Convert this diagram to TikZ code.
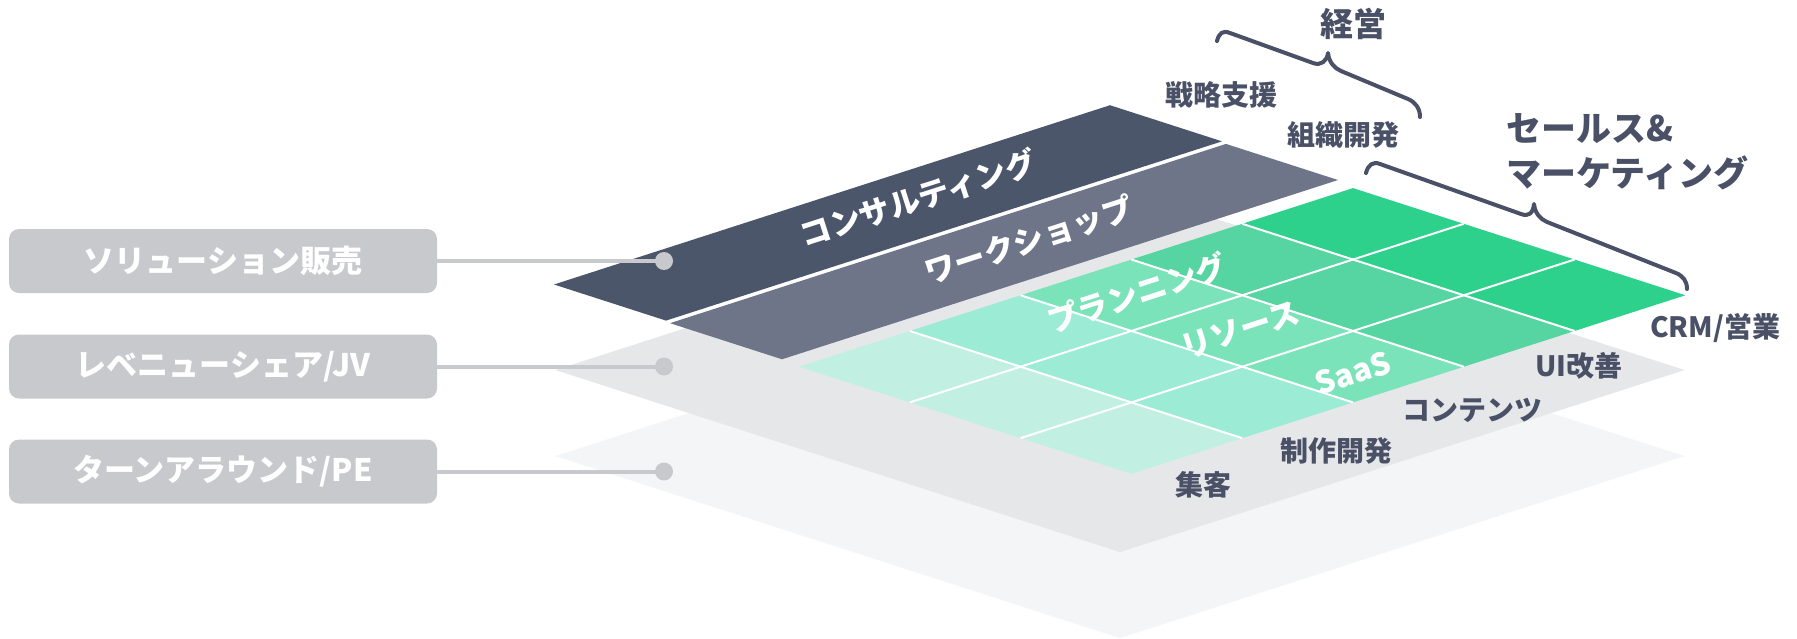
\documentclass[tikz,border=0pt]{standalone}
\usepackage{fontspec}
\setmainfont{Noto Sans CJK JP}
\definecolor{ink}{HTML}{4A5167}
\definecolor{boxgray}{HTML}{C8C9CD}
\definecolor{layerA}{HTML}{F4F5F7}
\definecolor{layerB}{HTML}{E6E7E9}
\definecolor{bandA}{HTML}{4B566B}
\definecolor{bandB}{HTML}{6F7588}
\definecolor{grA}{HTML}{2DD18C}
\definecolor{grB}{HTML}{56D4A1}
\definecolor{grC}{HTML}{7AE3BA}
\definecolor{grD}{HTML}{9CEBD4}
\definecolor{grE}{HTML}{C1F0E3}
\begin{document}
\begin{tikzpicture}[x=1pt,y=-1pt,
  sidebox/.style={fill=boxgray,rounded corners=10pt,minimum width=428pt,minimum height=64pt,text=white,font=\bfseries\fontsize{31}{31}\selectfont},
  pin/.style={circle,fill=boxgray,minimum size=18pt,inner sep=0pt},
  lbl/.style={text=ink,font=\bfseries\fontsize{28}{28}\selectfont,inner sep=0pt},
  onband/.style={text=white,font=\bfseries\fontsize{31}{31}\selectfont,rotate=17.9,inner sep=0pt},
  brace/.style={ink,line width=4pt,line cap=round,line join=round}]
\useasboundingbox (0,0) rectangle (1797,638);
% layers and grid, in plane coordinates
\begin{scope}[xshift=1120pt,yshift=-102pt,x={(1pt,-0.3224pt)},y={(-1pt,-0.3224pt)}]
\fill[layerA] (266.8,266.8) -- (831.4,266.8) -- (831.4,831.4) -- (266.8,831.4) -- cycle;
\fill[layerB] (133.4,133.4) -- (698,133.4) -- (698,698) -- (133.4,698) -- cycle;
\fill[bandA] (0,10) -- (112,10) -- (112,566) -- (0,566) -- cycle;
\fill[bandB] (118,12) -- (230,12) -- (230,568) -- (118,568) -- cycle;
\foreach \j/\c in {0/grA,1/grB,2/grC,3/grD,4/grE}
  \fill[\c] (250,{17+110.8*\j}) -- (582.4,{17+110.8*\j}) -- (582.4,{17+110.8*(\j+1)}) -- (250,{17+110.8*(\j+1)}) -- cycle;
\foreach \i in {1,2}
  \draw[white,line width=2pt] ({250+110.8*\i},17) -- ({250+110.8*\i},571);
\foreach \j in {1,...,4}
  \draw[white,line width=2pt] (250,{17+110.8*\j}) -- (582.4,{17+110.8*\j});
\end{scope}
\node[onband] (consult) at (918,198) {コンサルティング};
\node[onband] (workshop) at (1029,240) {ワークショップ};
\node[onband] (plan) at (1137,293) {プランニング};
\node[onband] (resource) at (1240,330) {リソース};
\node[onband] (saas) at (1353,373) {SaaS};
% side boxes
\node[sidebox] (sol) at (223,261) {ソリューション販売};
\node[sidebox] (rev) at (223,366.5) {レベニューシェア/JV};
\node[sidebox] (turn) at (223,471.5) {ターンアラウンド/PE};
\node[pin] (psol) at (664,261) {};
\node[pin] (prev) at (664,366.5) {};
\node[pin] (pturn) at (664,471.5) {};
\foreach \s in {sol,rev,turn}
  \draw[boxgray,line width=4pt] (\s.east) -- (p\s.center);
% labels
\node[lbl,anchor=west] (strat) at (1165,95) {戦略支援};
\node[lbl,anchor=west] (org) at (1287,135) {組織開発};
\node[lbl,anchor=west] (crm) at (1650,328) {CRM/営業};
\node[lbl,anchor=west] (ui) at (1535,366) {UI改善};
\node[lbl,anchor=west] (content) at (1402,410) {コンテンツ};
\node[lbl,anchor=west] (dev) at (1280,451) {制作開発};
\node[lbl,anchor=west] (attract) at (1175,485) {集客};
\node[lbl,font=\bfseries\fontsize{33}{33}\selectfont] (mgmt) at (1353,24) {経営};
\node[lbl,anchor=west,align=left,font=\bfseries\fontsize{35}{45}\selectfont] (sales) at (1506,152) {セールス\&\\マーケティング};
% braces
\draw[brace] (1217,41) .. controls (1219,33) and (1223,30) .. (1230,33) -- (1313,63) .. controls (1321,66) and (1327,61) .. (1328,53) .. controls (1329,62) and (1334,68) .. (1341,71) -- (1408,99) .. controls (1415,102) and (1420,108) .. (1420,117);
\draw[brace] (1366,173) .. controls (1368,165) and (1373,161) .. (1380,164) -- (1521,214) .. controls (1529,217) and (1533,213) .. (1534,204) .. controls (1535,213) and (1540,219) .. (1547,222) -- (1676,273) .. controls (1683,276) and (1687,281) .. (1687,289);
\end{tikzpicture}
\end{document}
